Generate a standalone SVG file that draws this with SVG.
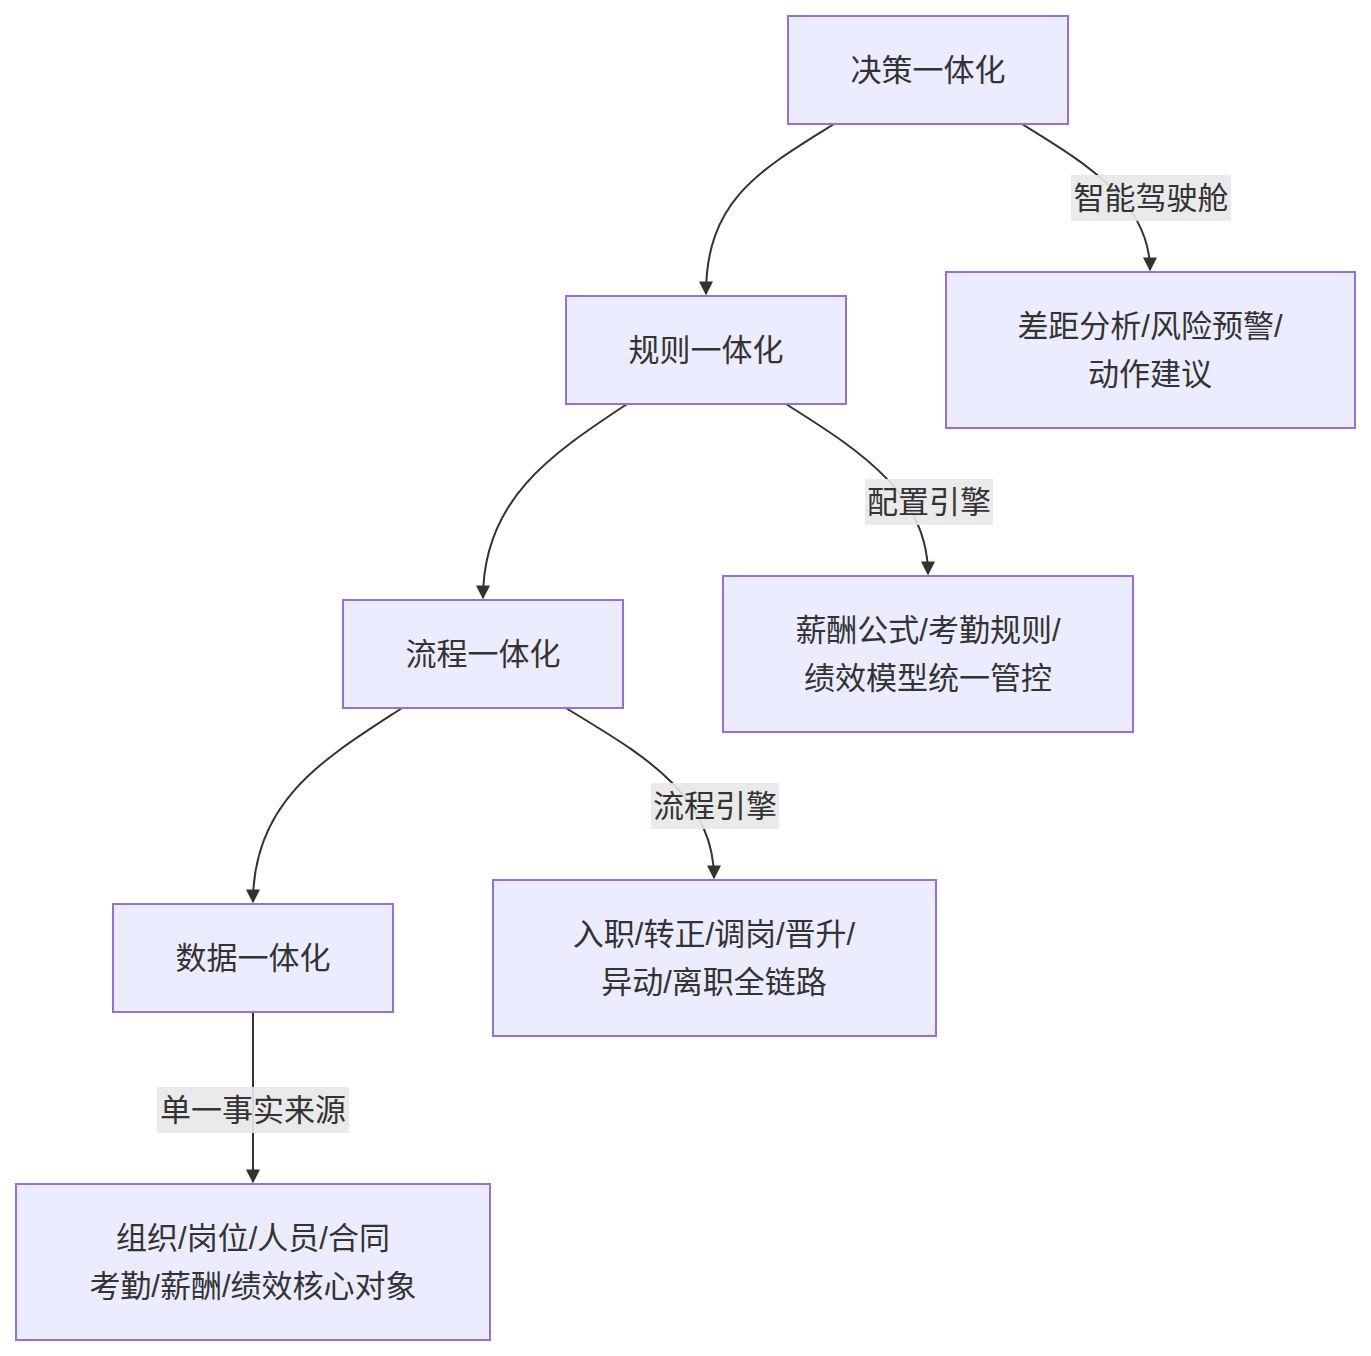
<svg xmlns="http://www.w3.org/2000/svg" width="1371" height="1356" viewBox="0 0 1371 1356">
<style>
.n rect{fill:#ECECFF;stroke:#9370DB;stroke-width:2}
text{font-family:"Liberation Sans","Noto Sans CJK SC",sans-serif;font-size:31px;fill:#333;text-anchor:middle;dominant-baseline:central}
.e path{fill:none;stroke:#333;stroke-width:2;marker-end:url(#a)}
.lb{fill:#e8e8e8;opacity:0.9}
</style>
<defs><marker id="a" viewBox="0 0 10 10" refX="9" refY="5" markerWidth="7" markerHeight="7" orient="auto"><path d="M0,0L10,5L0,10z" fill="#333"/></marker></defs>
<rect width="1371" height="1356" fill="#fff"/>
<g id="edges" class="e">
<path d="M834,124 C760,170 706,200 706,294"/>
<path d="M1022,124 C1080,160 1150,200 1150,270"/>
<path d="M627,404 C550,455 483,500 483,598"/>
<path d="M786,404 C850,445 928,490 928,574"/>
<path d="M402,708 C325,758 253,800 253,902"/>
<path d="M566,708 C630,748 714,790 714,878"/>
<path d="M253,1012 L253,1182"/>
<rect class="lb" x="1071" y="175" width="160" height="46"/><text x="1151" y="198">智能驾驶舱</text>
<rect class="lb" x="865" y="479" width="128" height="46"/><text x="929" y="502">配置引擎</text>
<rect class="lb" x="651" y="783" width="128" height="46"/><text x="715" y="806">流程引擎</text>
<rect class="lb" x="157" y="1087" width="192" height="46"/><text x="253" y="1110">单一事实来源</text>
</g>
<g id="n1" class="n"><rect x="788" y="16" width="280" height="108"/><text x="928" y="70">决策一体化</text></g>
<g id="n2" class="n"><rect x="566" y="296" width="280" height="108"/><text x="706" y="350">规则一体化</text></g>
<g id="n3" class="n"><rect x="946" y="272" width="409" height="156"/><text x="1150" y="326">差距分析/风险预警/</text><text x="1150" y="374">动作建议</text></g>
<g id="n4" class="n"><rect x="343" y="600" width="280" height="108"/><text x="483" y="654">流程一体化</text></g>
<g id="n5" class="n"><rect x="723" y="576" width="410" height="156"/><text x="928" y="630">薪酬公式/考勤规则/</text><text x="928" y="678">绩效模型统一管控</text></g>
<g id="n6" class="n"><rect x="113" y="904" width="280" height="108"/><text x="253" y="958">数据一体化</text></g>
<g id="n7" class="n"><rect x="493" y="880" width="443" height="156"/><text x="714" y="934">入职/转正/调岗/晋升/</text><text x="714" y="982">异动/离职全链路</text></g>
<g id="n8" class="n"><rect x="16" y="1184" width="474" height="156"/><text x="253" y="1238">组织/岗位/人员/合同</text><text x="253" y="1286">考勤/薪酬/绩效核心对象</text></g>
</svg>
